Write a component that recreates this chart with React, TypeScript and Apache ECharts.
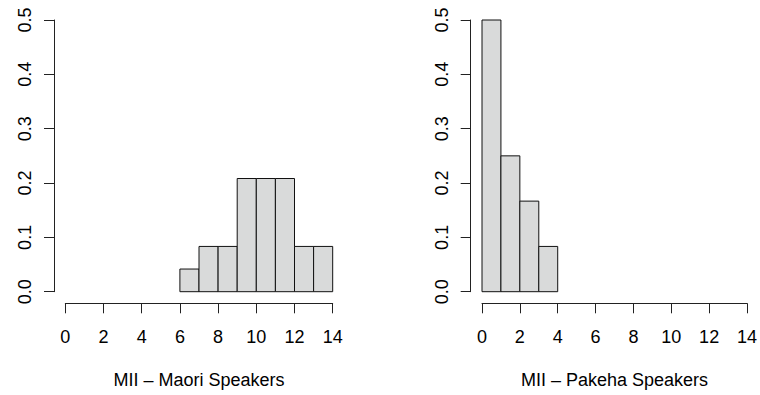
import React, { useEffect, useRef } from "react";
import * as echarts from "echarts";

const xTicks = [0, 2, 4, 6, 8, 10, 12, 14];
const yTicks = [0, 0.1, 0.2, 0.3, 0.4, 0.5];
const binWidth = 1;
const maoriBinStarts = [6, 7, 8, 9, 10, 11, 12, 13];
const maoriDensity = [0.0417, 0.0833, 0.0833, 0.2083, 0.2083, 0.2083, 0.0833, 0.0833];
const pakehaBinStarts = [0, 1, 2, 3];
const pakehaDensity = [0.5, 0.25, 0.1667, 0.0833];
const titles = ["MII – Maori Speakers", "MII – Pakeha Speakers"];

const FONT = "Liberation Sans, Arial, Helvetica, sans-serif";
const AXIS_COLOR = "#222";

function histData(starts: number[], dens: number[]) {
  return starts.map((s, i) => [s, s + binWidth, dens[i]]);
}

export default function App() {
  const ref = useRef<HTMLDivElement>(null);
  useEffect(() => {
    document.body.style.margin = "0";
    const chart = echarts.init(ref.current!, null, { renderer: "svg" });
    const xAxisBase = (gridIndex: number) => ({
      type: "value",
      gridIndex,
      min: xTicks[0],
      max: xTicks[xTicks.length - 1],
      interval: 2,
      offset: 11.6,
      splitLine: { show: false },
      axisLine: { show: true, onZero: false, lineStyle: { color: AXIS_COLOR, width: 1 } },
      axisTick: { show: true, length: 10, lineStyle: { color: AXIS_COLOR, width: 1 } },
      axisLabel: {
        color: "#000",
        fontSize: 18,
        fontFamily: FONT,
        margin: 25,
        showMinLabel: true,
        showMaxLabel: true,
        hideOverlap: false,
      },
      name: titles[gridIndex],
      nameLocation: "middle",
      nameGap: 68,
      nameTextStyle: { color: "#000", fontSize: 18, fontFamily: FONT },
    });
    const yAxisBase = (gridIndex: number) => ({
      type: "value",
      gridIndex,
      min: yTicks[0],
      max: yTicks[yTicks.length - 1],
      interval: 0.1,
      offset: 11.3,
      splitLine: { show: false },
      axisLine: { show: true, onZero: false, lineStyle: { color: AXIS_COLOR, width: 1 } },
      axisTick: { show: true, length: 10, lineStyle: { color: AXIS_COLOR, width: 1 } },
      axisLabel: {
        color: "#000",
        fontSize: 18,
        fontFamily: FONT,
        rotate: 90,
        margin: 20,
        formatter: (v: number) => v.toFixed(1),
        showMinLabel: true,
        showMaxLabel: true,
      },
    });
    const renderItem = (params: any, api: any) => {
      const x0 = api.value(0);
      const x1 = api.value(1);
      const y = api.value(2);
      const p0 = api.coord([x0, y]);
      const p1 = api.coord([x1, 0]);
      return {
        type: "rect",
        shape: { x: p0[0], y: p0[1], width: p1[0] - p0[0], height: p1[1] - p0[1] },
        style: { fill: "#d9dada", stroke: "#111", lineWidth: 1 },
      };
    };
    chart.setOption({
      animation: false,
      backgroundColor: "#fff",
      grid: [
        { left: 65.3, top: 20, width: 267.4, height: 271.7 },
        { left: 482, top: 20, width: 267, height: 271.7 },
      ],
      xAxis: [xAxisBase(0), xAxisBase(1)],
      yAxis: [yAxisBase(0), yAxisBase(1)],
      series: [
        {
          type: "custom",
          xAxisIndex: 0,
          yAxisIndex: 0,
          renderItem,
          encode: { x: [0, 1], y: 2 },
          data: histData(maoriBinStarts, maoriDensity),
        },
        {
          type: "custom",
          xAxisIndex: 1,
          yAxisIndex: 1,
          renderItem,
          encode: { x: [0, 1], y: 2 },
          data: histData(pakehaBinStarts, pakehaDensity),
        },
      ],
    });
    return () => chart.dispose();
  }, []);
  return <div ref={ref} style={{ width: 760, height: 395, position: "absolute", left: 0, top: 0 }} />;
}
